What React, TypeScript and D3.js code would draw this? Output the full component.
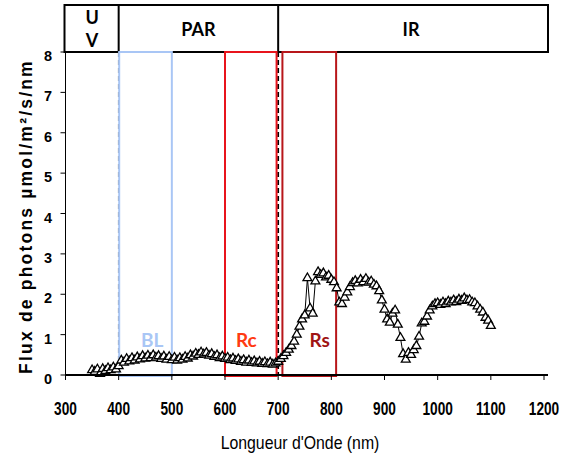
import React from 'react';
import * as d3 from 'd3';

// longueur d'onde (nm), pas de 5 nm
const wavelengths = d3.range(350, 1101, 5);

// flux de photons (µmol/m²/s/nm)
const flux = [
  0.12, 0.08, 0.14, 0.03, 0.15, 0.10, 0.17, 0.12, 0.19, 0.14, // 350-395
  0.22, 0.36, 0.31, 0.40, 0.34, 0.42, 0.36, 0.44, 0.39, 0.47, // 400-445
  0.41, 0.48, 0.42, 0.49, 0.43, 0.47, 0.40, 0.46, 0.38, 0.45, // 450-495
  0.37, 0.43, 0.36, 0.42, 0.38, 0.45, 0.41, 0.49, 0.46, 0.53, // 500-545
  0.50, 0.56, 0.51, 0.55, 0.48, 0.52, 0.45, 0.49, 0.42, 0.46, // 550-595
  0.40, 0.43, 0.37, 0.41, 0.35, 0.39, 0.33, 0.37, 0.31, 0.36, // 600-645
  0.30, 0.34, 0.29, 0.33, 0.28, 0.32, 0.27, 0.31, 0.26, 0.29, // 650-695
  0.33, 0.40, 0.47, 0.55, 0.63, 0.72, 0.83, 1.00, 1.20, 1.38, // 700-745
  1.48, 2.40, 1.65, 1.52, 2.32, 2.55, 2.48, 2.52, 2.42, 2.46, // 750-795
  2.36, 2.30, 2.15, 1.80, 1.76, 1.92, 2.05, 2.18, 2.28, 2.33, // 800-845
  2.27, 2.36, 2.30, 2.38, 2.29, 2.32, 2.24, 2.20, 2.08, 1.85, // 850-895
  1.62, 1.38, 1.30, 1.52, 1.60, 1.25, 0.92, 0.52, 0.38, 0.55, // 900-945
  0.50, 0.62, 0.72, 0.95, 1.28, 1.32, 1.45, 1.60, 1.70, 1.76, // 950-995
  1.78, 1.74, 1.80, 1.76, 1.82, 1.80, 1.85, 1.81, 1.87, 1.84, // 1000-1045
  1.90, 1.85, 1.86, 1.80, 1.78, 1.70, 1.62, 1.55, 1.42, 1.35, // 1050-1095
  1.22, // 1100
];

const xTicks = [300, 400, 500, 600, 700, 800, 900, 1000, 1100, 1200];
const yTicks = [0, 1, 2, 3, 4, 5, 6, 7, 8];

// limites du bandeau supérieur
const bandEdges = [400, 700];

// fenêtres spectrales
const windows = [
  { name: 'BL', from: 401, to: 500, label: 463, color: '#a9c6f5', text: '#a9c6f5' },
  { name: 'Rc', from: 600, to: 697, label: 640, color: '#e8141c', text: '#ff3a12' },
  { name: 'Rs', from: 708, to: 809, label: 778, color: '#b8161a', text: '#a01414' },
];

const numFont = "'Liberation Sans', Arial, sans-serif";
const boldFont = "Lato, 'Open Sans', 'Liberation Sans', sans-serif";

// texte étroit (façon Arial Narrow)
const Narrow = ({ x, y, children, anchor = 'middle', bold = false, size = 18, sx = 0.72 }: any) => (
  <text
    transform={`translate(${x},${y}) scale(${sx},1)`}
    textAnchor={anchor}
    fontFamily={numFont}
    fontWeight={bold ? 'bold' : 'normal'}
    fontSize={size}
  >
    {children}
  </text>
);

export default function App() {
  const width = 567;
  const height = 463;

  const x = d3.scaleLinear().domain([300, 1200]).range([65.5, 544]);
  const y = d3.scaleLinear().domain([0, 8]).range([375, 52]);

  const data = wavelengths.map((w, i) => ({ w, v: flux[i] }));
  const line = d3
    .line<{ w: number; v: number }>()
    .x((d) => x(d.w))
    .y((d) => y(d.v));

  const tri = d3.symbol().type(d3.symbolTriangle).size(34)();

  const headerTop = 5;
  const top = y(8);
  const bottom = y(0);

  return (
    <svg width={width} height={height} style={{ display: 'block', position: 'absolute', left: 0, top: 0 }}>
      <rect width={width} height={height} fill="#fff" />

      {/* titre tronqué en haut */}
      <text x={300} y={-3} textAnchor="middle" fontFamily={numFont} fontWeight="bold" fontSize={17}>
        Spectre lumineux global (nm)
      </text>

      {/* bandeau UV / PAR / IR */}
      <rect x={x(300) - 1} y={headerTop} width={548 - x(300) + 1} height={top - headerTop} fill="none" stroke="#000" strokeWidth={2} />
      {bandEdges.map((b) => (
        <line key={b} x1={x(b)} x2={x(b)} y1={headerTop} y2={top} stroke="#000" strokeWidth={2} />
      ))}
      <text x={x(350)} y={24} textAnchor="middle" fontFamily={boldFont} fontWeight="bold" fontSize={18}>U</text>
      <text x={x(350)} y={47} textAnchor="middle" fontFamily={boldFont} fontWeight="bold" fontSize={18}>V</text>
      <text x={x(550)} y={36} textAnchor="middle" fontFamily={boldFont} fontWeight="bold" fontSize={18}>PAR</text>
      <text x={x(950)} y={36} textAnchor="middle" fontFamily={boldFont} fontWeight="bold" fontSize={18}>IR</text>

      {/* limites pointillées */}
      <line x1={x(400)} x2={x(400)} y1={top} y2={bottom} stroke="#777" strokeWidth={1.5} strokeDasharray="5,3" />
      <line x1={x(700)} x2={x(700)} y1={top} y2={bottom} stroke="#000" strokeWidth={1.8} strokeDasharray="5,3" />

      {/* fenêtres */}
      {windows.map((wd) => (
        <g key={wd.name}>
          <rect x={x(wd.from)} y={top} width={x(wd.to) - x(wd.from)} height={bottom - top + 1} fill="none" stroke={wd.color} strokeWidth={2} />
          <text x={x(wd.label)} y={347} textAnchor="middle" fontFamily={boldFont} fontWeight="bold" fontSize={19} fill={wd.text}>
            {wd.name}
          </text>
        </g>
      ))}

      {/* série */}
      <path d={line(data) ?? ''} fill="none" stroke="#000" strokeWidth={1} />
      {data.map((d) => (
        <path key={d.w} d={tri ?? ''} transform={`translate(${x(d.w)},${y(d.v)})`} fill="#fff" stroke="#000" strokeWidth={1.3} />
      ))}

      {/* axes */}
      <line x1={x(300)} x2={x(300)} y1={top} y2={bottom} stroke="#000" strokeWidth={1} />
      <line x1={x(300)} x2={548} y1={bottom} y2={bottom} stroke="#000" strokeWidth={2} />
      {yTicks.map((t) => (
        <g key={t}>
          <line x1={x(300) - 5} x2={x(300)} y1={y(t)} y2={y(t)} stroke="#000" strokeWidth={1} />
          <Narrow x={52} y={y(t) + 9} anchor="end" bold size={14.5} sx={1}>{t}</Narrow>
        </g>
      ))}
      {xTicks.map((t) => (
        <g key={t}>
          <line x1={x(t)} x2={x(t)} y1={bottom} y2={bottom + 5} stroke="#000" strokeWidth={1} />
          <Narrow x={x(t)} y={415} bold size={18} sx={0.76}>{t}</Narrow>
        </g>
      ))}

      <Narrow x={300} y={449} sx={0.88}>Longueur d'Onde (nm)</Narrow>
      <text
        transform={`translate(32,${(top + bottom) / 2 + 3}) rotate(-90)`}
        textAnchor="middle"
        fontFamily={numFont}
        fontWeight="bold"
        fontSize={17.5}
        letterSpacing={2.2}
      >
        Flux de photons µmol/m²/s/nm
      </text>
    </svg>
  );
}
